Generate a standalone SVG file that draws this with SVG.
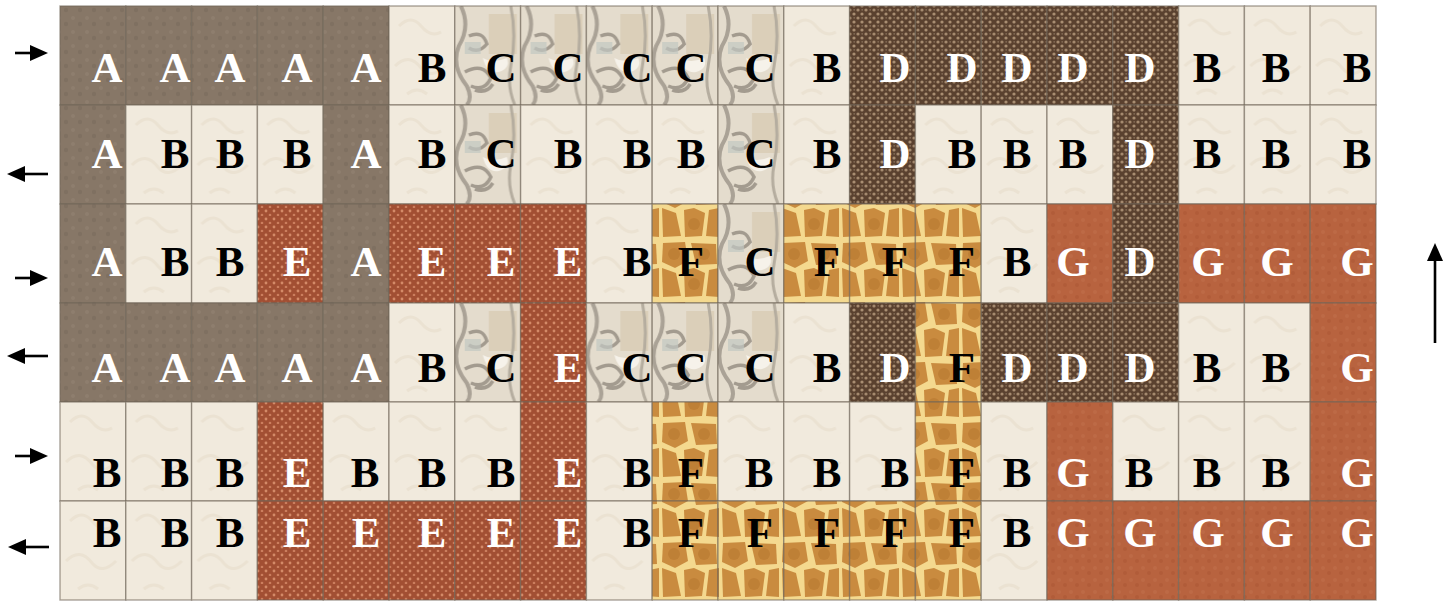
<svg xmlns="http://www.w3.org/2000/svg" width="1456" height="601" viewBox="0 0 1456 601">
<style>
rect.c{stroke:#6f6558;stroke-opacity:0.6;stroke-width:1.4}
text{font-family:"Liberation Serif","Times New Roman",serif;font-weight:bold;font-size:43px;text-anchor:middle}
.A rect{fill:url(#pA)} .A text{fill:#fff}
.B rect{fill:url(#pB)} .B text{fill:#000}
.C rect{fill:url(#pC)} .C text{fill:#000}
.D rect{fill:url(#pD)} .D text{fill:#fff}
.E rect{fill:url(#pE)} .E text{fill:#fff}
.F rect{fill:url(#pF)} .F text{fill:#000}
.G rect{fill:url(#pG)} .G text{fill:#fff}
.arr{stroke:#000;stroke-width:2.6;fill:none;marker-end:url(#ah)}
</style>
<defs>
<marker id="ah" viewBox="0 0 18 16" refX="8" refY="8" markerWidth="18" markerHeight="16" markerUnits="userSpaceOnUse" orient="auto"><path d="M0,0 L18,8 L0,16 Z" fill="#000"/></marker>
<pattern id="pA" patternUnits="userSpaceOnUse" width="14" height="14"><rect width="14" height="14" fill="#877767"/><circle cx="3" cy="4" r="2" fill="#8e7e6e"/><circle cx="10" cy="10" r="2.2" fill="#7f7061"/></pattern>
<pattern id="pB" patternUnits="userSpaceOnUse" x="60" y="6" width="65.8" height="99"><rect width="65.8" height="99" fill="#f1eadd"/><path d="M10,20 q12,-12 22,0 t20,6 M6,60 q14,-14 26,2 q10,12 24,-2 M18,88 q10,-8 20,0" stroke="#ebe2d2" stroke-width="3" fill="none"/></pattern>
<pattern id="pC" patternUnits="userSpaceOnUse" x="60" y="6" width="65.8" height="99"><rect width="65.8" height="99" fill="#e4dccd"/><rect x="34" y="8" width="28" height="40" fill="#dbcfb9"/><path d="M6,0 q10,20 -2,40 q-8,20 8,40 q6,12 0,19" stroke="#aaa296" stroke-width="4" fill="none"/><path d="M14,30 q14,-6 18,8 q-8,10 -18,4 M10,66 q18,-10 26,6 q-6,14 -20,8 M20,84 q12,4 18,-6" stroke="#a39b8f" stroke-width="3.5" fill="none"/><rect x="10" y="36" width="16" height="12" fill="#c2c8c2" opacity="0.7"/><path d="M28,52 q10,6 24,0 q4,10 -8,14 q-12,2 -16,-14z" fill="#f6f2ea"/><path d="M56,0 q6,30 0,60 q-4,20 4,39" stroke="#b5ad9f" stroke-width="3" fill="none"/></pattern>
<pattern id="pD" patternUnits="userSpaceOnUse" width="8" height="8"><rect width="8" height="8" fill="#5a412f"/><circle cx="2" cy="2" r="1.6" fill="#a58a6f"/><circle cx="6" cy="6" r="1.6" fill="#a98e72"/><circle cx="6.2" cy="1.8" r="0.9" fill="#846c56"/></pattern>
<pattern id="pE" patternUnits="userSpaceOnUse" width="8" height="8"><rect width="8" height="8" fill="#a24f33"/><circle cx="2" cy="3" r="1.4" fill="#d48a68"/><circle cx="6" cy="7" r="1.3" fill="#cc7e5e"/></pattern>
<pattern id="pF" patternUnits="userSpaceOnUse" width="60" height="60"><rect width="60" height="60" fill="#f4d98f"/><g fill="#c98b3f"><polygon points="3,3 25,2 28,21 15,28 2,22"/><polygon points="31,3 56,4 57,24 36,25"/><polygon points="2,28 16,33 21,56 3,57"/><polygon points="24,30 34,28 45,33 42,56 25,57"/><polygon points="49,30 59,28 59,57 46,56"/></g><g fill="#b8772f" opacity="0.6"><circle cx="14" cy="14" r="6"/><circle cx="44" cy="14" r="6"/><circle cx="34" cy="44" r="6"/></g></pattern>
<pattern id="pG" patternUnits="userSpaceOnUse" width="12" height="12"><rect width="12" height="12" fill="#b8633f"/><circle cx="3" cy="4" r="2" fill="#bd6a46"/><circle cx="9" cy="9" r="2" fill="#b15c39"/></pattern>
</defs>
<g id="grid">
<g id="r1c1" class="A"><rect class="c" x="60" y="6" width="65.8" height="99"/><text x="107" y="82">A</text></g>
<g id="r1c2" class="A"><rect class="c" x="125.8" y="6" width="65.8" height="99"/><text x="175" y="82">A</text></g>
<g id="r1c3" class="A"><rect class="c" x="191.6" y="6" width="65.8" height="99"/><text x="230" y="82">A</text></g>
<g id="r1c4" class="A"><rect class="c" x="257.4" y="6" width="65.8" height="99"/><text x="297" y="82">A</text></g>
<g id="r1c5" class="A"><rect class="c" x="323.2" y="6" width="65.8" height="99"/><text x="366" y="82">A</text></g>
<g id="r1c6" class="B"><rect class="c" x="389" y="6" width="65.8" height="99"/><text x="432" y="82">B</text></g>
<g id="r1c7" class="C"><rect class="c" x="454.8" y="6" width="65.8" height="99"/><text x="501" y="82">C</text></g>
<g id="r1c8" class="C"><rect class="c" x="520.6" y="6" width="65.8" height="99"/><text x="568" y="82">C</text></g>
<g id="r1c9" class="C"><rect class="c" x="586.4" y="6" width="65.8" height="99"/><text x="637" y="82">C</text></g>
<g id="r1c10" class="C"><rect class="c" x="652.2" y="6" width="65.8" height="99"/><text x="691" y="82">C</text></g>
<g id="r1c11" class="C"><rect class="c" x="718" y="6" width="65.8" height="99"/><text x="760" y="82">C</text></g>
<g id="r1c12" class="B"><rect class="c" x="783.8" y="6" width="65.8" height="99"/><text x="827" y="82">B</text></g>
<g id="r1c13" class="D"><rect class="c" x="849.6" y="6" width="65.8" height="99"/><text x="895" y="82">D</text></g>
<g id="r1c14" class="D"><rect class="c" x="915.4" y="6" width="65.8" height="99"/><text x="962" y="82">D</text></g>
<g id="r1c15" class="D"><rect class="c" x="981.2" y="6" width="65.8" height="99"/><text x="1017" y="82">D</text></g>
<g id="r1c16" class="D"><rect class="c" x="1047" y="6" width="65.8" height="99"/><text x="1073" y="82">D</text></g>
<g id="r1c17" class="D"><rect class="c" x="1112.8" y="6" width="65.8" height="99"/><text x="1140" y="82">D</text></g>
<g id="r1c18" class="B"><rect class="c" x="1178.6" y="6" width="65.8" height="99"/><text x="1207" y="82">B</text></g>
<g id="r1c19" class="B"><rect class="c" x="1244.4" y="6" width="65.8" height="99"/><text x="1276" y="82">B</text></g>
<g id="r1c20" class="B"><rect class="c" x="1310.2" y="6" width="65.8" height="99"/><text x="1357" y="82">B</text></g>

<g id="r2c1" class="A"><rect class="c" x="60" y="105" width="65.8" height="99"/><text x="107" y="168">A</text></g>
<g id="r2c2" class="B"><rect class="c" x="125.8" y="105" width="65.8" height="99"/><text x="175" y="168">B</text></g>
<g id="r2c3" class="B"><rect class="c" x="191.6" y="105" width="65.8" height="99"/><text x="230" y="168">B</text></g>
<g id="r2c4" class="B"><rect class="c" x="257.4" y="105" width="65.8" height="99"/><text x="297" y="168">B</text></g>
<g id="r2c5" class="A"><rect class="c" x="323.2" y="105" width="65.8" height="99"/><text x="366" y="168">A</text></g>
<g id="r2c6" class="B"><rect class="c" x="389" y="105" width="65.8" height="99"/><text x="432" y="168">B</text></g>
<g id="r2c7" class="C"><rect class="c" x="454.8" y="105" width="65.8" height="99"/><text x="501" y="168">C</text></g>
<g id="r2c8" class="B"><rect class="c" x="520.6" y="105" width="65.8" height="99"/><text x="568" y="168">B</text></g>
<g id="r2c9" class="B"><rect class="c" x="586.4" y="105" width="65.8" height="99"/><text x="637" y="168">B</text></g>
<g id="r2c10" class="B"><rect class="c" x="652.2" y="105" width="65.8" height="99"/><text x="691" y="168">B</text></g>
<g id="r2c11" class="C"><rect class="c" x="718" y="105" width="65.8" height="99"/><text x="760" y="168">C</text></g>
<g id="r2c12" class="B"><rect class="c" x="783.8" y="105" width="65.8" height="99"/><text x="827" y="168">B</text></g>
<g id="r2c13" class="D"><rect class="c" x="849.6" y="105" width="65.8" height="99"/><text x="895" y="168">D</text></g>
<g id="r2c14" class="B"><rect class="c" x="915.4" y="105" width="65.8" height="99"/><text x="962" y="168">B</text></g>
<g id="r2c15" class="B"><rect class="c" x="981.2" y="105" width="65.8" height="99"/><text x="1017" y="168">B</text></g>
<g id="r2c16" class="B"><rect class="c" x="1047" y="105" width="65.8" height="99"/><text x="1073" y="168">B</text></g>
<g id="r2c17" class="D"><rect class="c" x="1112.8" y="105" width="65.8" height="99"/><text x="1140" y="168">D</text></g>
<g id="r2c18" class="B"><rect class="c" x="1178.6" y="105" width="65.8" height="99"/><text x="1207" y="168">B</text></g>
<g id="r2c19" class="B"><rect class="c" x="1244.4" y="105" width="65.8" height="99"/><text x="1276" y="168">B</text></g>
<g id="r2c20" class="B"><rect class="c" x="1310.2" y="105" width="65.8" height="99"/><text x="1357" y="168">B</text></g>

<g id="r3c1" class="A"><rect class="c" x="60" y="204" width="65.8" height="99"/><text x="107" y="276">A</text></g>
<g id="r3c2" class="B"><rect class="c" x="125.8" y="204" width="65.8" height="99"/><text x="175" y="276">B</text></g>
<g id="r3c3" class="B"><rect class="c" x="191.6" y="204" width="65.8" height="99"/><text x="230" y="276">B</text></g>
<g id="r3c4" class="E"><rect class="c" x="257.4" y="204" width="65.8" height="99"/><text x="297" y="276">E</text></g>
<g id="r3c5" class="A"><rect class="c" x="323.2" y="204" width="65.8" height="99"/><text x="366" y="276">A</text></g>
<g id="r3c6" class="E"><rect class="c" x="389" y="204" width="65.8" height="99"/><text x="432" y="276">E</text></g>
<g id="r3c7" class="E"><rect class="c" x="454.8" y="204" width="65.8" height="99"/><text x="501" y="276">E</text></g>
<g id="r3c8" class="E"><rect class="c" x="520.6" y="204" width="65.8" height="99"/><text x="568" y="276">E</text></g>
<g id="r3c9" class="B"><rect class="c" x="586.4" y="204" width="65.8" height="99"/><text x="637" y="276">B</text></g>
<g id="r3c10" class="F"><rect class="c" x="652.2" y="204" width="65.8" height="99"/><text x="691" y="276">F</text></g>
<g id="r3c11" class="C"><rect class="c" x="718" y="204" width="65.8" height="99"/><text x="760" y="276">C</text></g>
<g id="r3c12" class="F"><rect class="c" x="783.8" y="204" width="65.8" height="99"/><text x="827" y="276">F</text></g>
<g id="r3c13" class="F"><rect class="c" x="849.6" y="204" width="65.8" height="99"/><text x="895" y="276">F</text></g>
<g id="r3c14" class="F"><rect class="c" x="915.4" y="204" width="65.8" height="99"/><text x="962" y="276">F</text></g>
<g id="r3c15" class="B"><rect class="c" x="981.2" y="204" width="65.8" height="99"/><text x="1017" y="276">B</text></g>
<g id="r3c16" class="G"><rect class="c" x="1047" y="204" width="65.8" height="99"/><text x="1073" y="276">G</text></g>
<g id="r3c17" class="D"><rect class="c" x="1112.8" y="204" width="65.8" height="99"/><text x="1140" y="276">D</text></g>
<g id="r3c18" class="G"><rect class="c" x="1178.6" y="204" width="65.8" height="99"/><text x="1208" y="276">G</text></g>
<g id="r3c19" class="G"><rect class="c" x="1244.4" y="204" width="65.8" height="99"/><text x="1277" y="276">G</text></g>
<g id="r3c20" class="G"><rect class="c" x="1310.2" y="204" width="65.8" height="99"/><text x="1357" y="276">G</text></g>

<g id="r4c1" class="A"><rect class="c" x="60" y="303" width="65.8" height="99"/><text x="107" y="382">A</text></g>
<g id="r4c2" class="A"><rect class="c" x="125.8" y="303" width="65.8" height="99"/><text x="175" y="382">A</text></g>
<g id="r4c3" class="A"><rect class="c" x="191.6" y="303" width="65.8" height="99"/><text x="230" y="382">A</text></g>
<g id="r4c4" class="A"><rect class="c" x="257.4" y="303" width="65.8" height="99"/><text x="297" y="382">A</text></g>
<g id="r4c5" class="A"><rect class="c" x="323.2" y="303" width="65.8" height="99"/><text x="366" y="382">A</text></g>
<g id="r4c6" class="B"><rect class="c" x="389" y="303" width="65.8" height="99"/><text x="432" y="382">B</text></g>
<g id="r4c7" class="C"><rect class="c" x="454.8" y="303" width="65.8" height="99"/><text x="501" y="382">C</text></g>
<g id="r4c8" class="E"><rect class="c" x="520.6" y="303" width="65.8" height="99"/><text x="568" y="382">E</text></g>
<g id="r4c9" class="C"><rect class="c" x="586.4" y="303" width="65.8" height="99"/><text x="637" y="382">C</text></g>
<g id="r4c10" class="C"><rect class="c" x="652.2" y="303" width="65.8" height="99"/><text x="691" y="382">C</text></g>
<g id="r4c11" class="C"><rect class="c" x="718" y="303" width="65.8" height="99"/><text x="760" y="382">C</text></g>
<g id="r4c12" class="B"><rect class="c" x="783.8" y="303" width="65.8" height="99"/><text x="827" y="382">B</text></g>
<g id="r4c13" class="D"><rect class="c" x="849.6" y="303" width="65.8" height="99"/><text x="895" y="382">D</text></g>
<g id="r4c14" class="F"><rect class="c" x="915.4" y="303" width="65.8" height="99"/><text x="962" y="382">F</text></g>
<g id="r4c15" class="D"><rect class="c" x="981.2" y="303" width="65.8" height="99"/><text x="1017" y="382">D</text></g>
<g id="r4c16" class="D"><rect class="c" x="1047" y="303" width="65.8" height="99"/><text x="1073" y="382">D</text></g>
<g id="r4c17" class="D"><rect class="c" x="1112.8" y="303" width="65.8" height="99"/><text x="1140" y="382">D</text></g>
<g id="r4c18" class="B"><rect class="c" x="1178.6" y="303" width="65.8" height="99"/><text x="1207" y="382">B</text></g>
<g id="r4c19" class="B"><rect class="c" x="1244.4" y="303" width="65.8" height="99"/><text x="1276" y="382">B</text></g>
<g id="r4c20" class="G"><rect class="c" x="1310.2" y="303" width="65.8" height="99"/><text x="1357" y="382">G</text></g>

<g id="r5c1" class="B"><rect class="c" x="60" y="402" width="65.8" height="99"/><text x="107" y="487">B</text></g>
<g id="r5c2" class="B"><rect class="c" x="125.8" y="402" width="65.8" height="99"/><text x="175" y="487">B</text></g>
<g id="r5c3" class="B"><rect class="c" x="191.6" y="402" width="65.8" height="99"/><text x="230" y="487">B</text></g>
<g id="r5c4" class="E"><rect class="c" x="257.4" y="402" width="65.8" height="99"/><text x="297" y="487">E</text></g>
<g id="r5c5" class="B"><rect class="c" x="323.2" y="402" width="65.8" height="99"/><text x="365" y="487">B</text></g>
<g id="r5c6" class="B"><rect class="c" x="389" y="402" width="65.8" height="99"/><text x="432" y="487">B</text></g>
<g id="r5c7" class="B"><rect class="c" x="454.8" y="402" width="65.8" height="99"/><text x="501" y="487">B</text></g>
<g id="r5c8" class="E"><rect class="c" x="520.6" y="402" width="65.8" height="99"/><text x="568" y="487">E</text></g>
<g id="r5c9" class="B"><rect class="c" x="586.4" y="402" width="65.8" height="99"/><text x="637" y="487">B</text></g>
<g id="r5c10" class="F"><rect class="c" x="652.2" y="402" width="65.8" height="99"/><text x="691" y="487">F</text></g>
<g id="r5c11" class="B"><rect class="c" x="718" y="402" width="65.8" height="99"/><text x="759" y="487">B</text></g>
<g id="r5c12" class="B"><rect class="c" x="783.8" y="402" width="65.8" height="99"/><text x="827" y="487">B</text></g>
<g id="r5c13" class="B"><rect class="c" x="849.6" y="402" width="65.8" height="99"/><text x="895" y="487">B</text></g>
<g id="r5c14" class="F"><rect class="c" x="915.4" y="402" width="65.8" height="99"/><text x="962" y="487">F</text></g>
<g id="r5c15" class="B"><rect class="c" x="981.2" y="402" width="65.8" height="99"/><text x="1017" y="487">B</text></g>
<g id="r5c16" class="G"><rect class="c" x="1047" y="402" width="65.8" height="99"/><text x="1073" y="487">G</text></g>
<g id="r5c17" class="B"><rect class="c" x="1112.8" y="402" width="65.8" height="99"/><text x="1139" y="487">B</text></g>
<g id="r5c18" class="B"><rect class="c" x="1178.6" y="402" width="65.8" height="99"/><text x="1207" y="487">B</text></g>
<g id="r5c19" class="B"><rect class="c" x="1244.4" y="402" width="65.8" height="99"/><text x="1276" y="487">B</text></g>
<g id="r5c20" class="G"><rect class="c" x="1310.2" y="402" width="65.8" height="99"/><text x="1357" y="487">G</text></g>

<g id="r6c1" class="B"><rect class="c" x="60" y="501" width="65.8" height="99"/><text x="107" y="547">B</text></g>
<g id="r6c2" class="B"><rect class="c" x="125.8" y="501" width="65.8" height="99"/><text x="175" y="547">B</text></g>
<g id="r6c3" class="B"><rect class="c" x="191.6" y="501" width="65.8" height="99"/><text x="230" y="547">B</text></g>
<g id="r6c4" class="E"><rect class="c" x="257.4" y="501" width="65.8" height="99"/><text x="297" y="547">E</text></g>
<g id="r6c5" class="E"><rect class="c" x="323.2" y="501" width="65.8" height="99"/><text x="366" y="547">E</text></g>
<g id="r6c6" class="E"><rect class="c" x="389" y="501" width="65.8" height="99"/><text x="432" y="547">E</text></g>
<g id="r6c7" class="E"><rect class="c" x="454.8" y="501" width="65.8" height="99"/><text x="501" y="547">E</text></g>
<g id="r6c8" class="E"><rect class="c" x="520.6" y="501" width="65.8" height="99"/><text x="568" y="547">E</text></g>
<g id="r6c9" class="B"><rect class="c" x="586.4" y="501" width="65.8" height="99"/><text x="637" y="547">B</text></g>
<g id="r6c10" class="F"><rect class="c" x="652.2" y="501" width="65.8" height="99"/><text x="691" y="547">F</text></g>
<g id="r6c11" class="F"><rect class="c" x="718" y="501" width="65.8" height="99"/><text x="760" y="547">F</text></g>
<g id="r6c12" class="F"><rect class="c" x="783.8" y="501" width="65.8" height="99"/><text x="827" y="547">F</text></g>
<g id="r6c13" class="F"><rect class="c" x="849.6" y="501" width="65.8" height="99"/><text x="895" y="547">F</text></g>
<g id="r6c14" class="F"><rect class="c" x="915.4" y="501" width="65.8" height="99"/><text x="962" y="547">F</text></g>
<g id="r6c15" class="B"><rect class="c" x="981.2" y="501" width="65.8" height="99"/><text x="1017" y="547">B</text></g>
<g id="r6c16" class="G"><rect class="c" x="1047" y="501" width="65.8" height="99"/><text x="1073" y="547">G</text></g>
<g id="r6c17" class="G"><rect class="c" x="1112.8" y="501" width="65.8" height="99"/><text x="1140" y="547">G</text></g>
<g id="r6c18" class="G"><rect class="c" x="1178.6" y="501" width="65.8" height="99"/><text x="1208" y="547">G</text></g>
<g id="r6c19" class="G"><rect class="c" x="1244.4" y="501" width="65.8" height="99"/><text x="1277" y="547">G</text></g>
<g id="r6c20" class="G"><rect class="c" x="1310.2" y="501" width="65.8" height="99"/><text x="1357" y="547">G</text></g>
</g>
<g id="connectors">
<line class="arr" x1="15" y1="53" x2="38" y2="53"/>
<line class="arr" x1="48" y1="174" x2="17" y2="174"/>
<line class="arr" x1="15" y1="278" x2="38" y2="278"/>
<line class="arr" x1="48" y1="356" x2="17" y2="356"/>
<line class="arr" x1="15" y1="456" x2="38" y2="456"/>
<line class="arr" x1="49" y1="547" x2="18" y2="547"/>
<line class="arr" x1="1435" y1="343" x2="1435" y2="253"/>
</g>
</svg>
